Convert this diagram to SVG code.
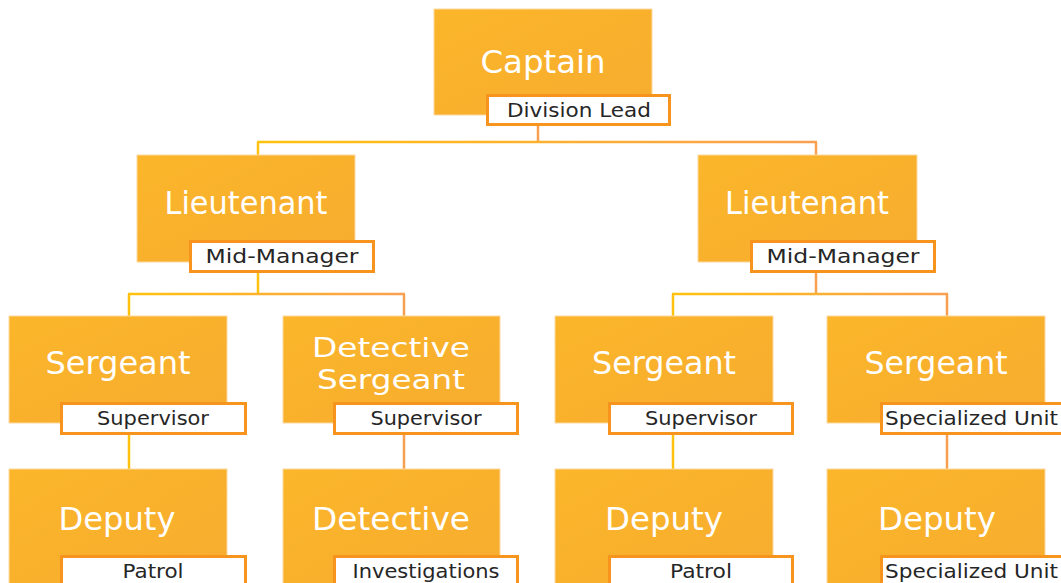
<svg xmlns="http://www.w3.org/2000/svg" width="1061" height="583" viewBox="0 0 1061 583">
<defs>
<linearGradient id="boxg" x1="0" y1="0" x2="1" y2="1">
<stop offset="0" stop-color="#FBB62A"/>
<stop offset="1" stop-color="#F7AC2F"/>
</linearGradient>
<linearGradient id="h1" gradientUnits="userSpaceOnUse" x1="258" y1="0" x2="816" y2="0">
<stop offset="0" stop-color="#FFC20E"/>
<stop offset="1" stop-color="#F8A050"/>
</linearGradient>
<linearGradient id="h2" gradientUnits="userSpaceOnUse" x1="129" y1="0" x2="404" y2="0">
<stop offset="0" stop-color="#FFC20E"/>
<stop offset="1" stop-color="#F8A050"/>
</linearGradient>
<linearGradient id="h3" gradientUnits="userSpaceOnUse" x1="673" y1="0" x2="947" y2="0">
<stop offset="0" stop-color="#FFC20E"/>
<stop offset="1" stop-color="#F8A050"/>
</linearGradient>
</defs>
<style>
.box{fill:url(#boxg);stroke:#FCD9A0;stroke-width:1}
.lbl{fill:#FFFFFF;stroke:#F7941E;stroke-width:3}
.t{font-family:"DejaVu Sans","Liberation Sans",sans-serif;font-size:32px;fill:#FFFFFF;text-anchor:middle}
.t2{font-family:"DejaVu Sans","Liberation Sans",sans-serif;font-size:27px;fill:#FFFFFF;text-anchor:middle}
.s{font-family:"DejaVu Sans","Liberation Sans",sans-serif;font-size:20px;fill:#262626;text-anchor:middle}
.y{stroke:#FFC20E;stroke-width:2.5;fill:none}
.o{stroke:#F8A050;stroke-width:2.5;fill:none}
</style>
<rect width="1061" height="583" fill="#FFFFFF"/>
<g id="connectors">
<line class="o" x1="538" y1="126" x2="538" y2="142"/>
<line x1="257" y1="142" x2="817" y2="142" stroke="url(#h1)" stroke-width="2.5"/>
<line class="y" x1="258" y1="142" x2="258" y2="155"/>
<line class="o" x1="816" y1="142" x2="816" y2="155"/>
<line class="y" x1="258" y1="273" x2="258" y2="294"/>
<line class="o" x1="816" y1="273" x2="816" y2="294"/>
<line x1="128" y1="294" x2="405" y2="294" stroke="url(#h2)" stroke-width="2.5"/>
<line x1="672" y1="294" x2="948" y2="294" stroke="url(#h3)" stroke-width="2.5"/>
<line class="y" x1="129" y1="294" x2="129" y2="316"/>
<line class="o" x1="404" y1="294" x2="404" y2="316"/>
<line class="y" x1="673" y1="294" x2="673" y2="316"/>
<line class="o" x1="947" y1="294" x2="947" y2="316"/>
<line class="y" x1="129" y1="435" x2="129" y2="469"/>
<line class="o" x1="404" y1="435" x2="404" y2="469"/>
<line class="y" x1="673" y1="435" x2="673" y2="469"/>
<line class="o" x1="947" y1="435" x2="947" y2="469"/>
</g>
<g id="captain">
<rect class="box" x="434" y="9" width="218" height="106"/>
<text class="t" x="543" y="73" textLength="125" lengthAdjust="spacingAndGlyphs">Captain</text>
<rect class="lbl" x="487.5" y="95.5" width="182" height="29"/>
<text class="s" x="579" y="117" textLength="144" lengthAdjust="spacingAndGlyphs">Division Lead</text>
</g>
<g id="lieutenant-left">
<rect class="box" x="137" y="155" width="218" height="107"/>
<text class="t" x="246" y="214" textLength="163" lengthAdjust="spacingAndGlyphs">Lieutenant</text>
<rect class="lbl" x="190.5" y="241.5" width="183" height="30"/>
<text class="s" x="282" y="263" textLength="153" lengthAdjust="spacingAndGlyphs">Mid-Manager</text>
</g>
<g id="lieutenant-right">
<rect class="box" x="698" y="155" width="219" height="107"/>
<text class="t" x="807" y="214" textLength="164" lengthAdjust="spacingAndGlyphs">Lieutenant</text>
<rect class="lbl" x="751.5" y="241.5" width="183" height="30"/>
<text class="s" x="843" y="263" textLength="153" lengthAdjust="spacingAndGlyphs">Mid-Manager</text>
</g>
<g id="sergeant-1">
<rect class="box" x="9" y="316" width="218" height="107"/>
<text class="t" x="118" y="374" textLength="145" lengthAdjust="spacingAndGlyphs">Sergeant</text>
<rect class="lbl" x="61.5" y="403.5" width="184" height="30"/>
<text class="s" x="153" y="425" textLength="112" lengthAdjust="spacingAndGlyphs">Supervisor</text>
</g>
<g id="detective-sergeant">
<rect class="box" x="283" y="316" width="217" height="107"/>
<text class="t2" x="391" y="357" textLength="158" lengthAdjust="spacingAndGlyphs">Detective</text>
<text class="t2" x="391" y="389" textLength="148" lengthAdjust="spacingAndGlyphs">Sergeant</text>
<rect class="lbl" x="334.5" y="403.5" width="183" height="30"/>
<text class="s" x="426" y="425" textLength="111" lengthAdjust="spacingAndGlyphs">Supervisor</text>
</g>
<g id="sergeant-2">
<rect class="box" x="555" y="316" width="218" height="107"/>
<text class="t" x="664" y="374" textLength="144" lengthAdjust="spacingAndGlyphs">Sergeant</text>
<rect class="lbl" x="609.5" y="403.5" width="183" height="30"/>
<text class="s" x="701" y="425" textLength="112" lengthAdjust="spacingAndGlyphs">Supervisor</text>
</g>
<g id="sergeant-3">
<rect class="box" x="827" y="316" width="218" height="107"/>
<text class="t" x="936" y="374" textLength="143" lengthAdjust="spacingAndGlyphs">Sergeant</text>
<rect class="lbl" x="881.5" y="403.5" width="190" height="30"/>
<text class="s" x="885" y="425" style="text-anchor:start" textLength="173" lengthAdjust="spacingAndGlyphs">Specialized Unit</text>
</g>
<g id="deputy-1">
<rect class="box" x="9" y="469" width="218" height="120"/>
<text class="t" x="117" y="530" textLength="117" lengthAdjust="spacingAndGlyphs">Deputy</text>
<rect class="lbl" x="61.5" y="556.5" width="184" height="40"/>
<text class="s" x="153" y="578" textLength="61" lengthAdjust="spacingAndGlyphs">Patrol</text>
</g>
<g id="detective">
<rect class="box" x="283" y="469" width="217" height="120"/>
<text class="t" x="391" y="530" textLength="158" lengthAdjust="spacingAndGlyphs">Detective</text>
<rect class="lbl" x="334.5" y="556.5" width="183" height="40"/>
<text class="s" x="426" y="578" textLength="147" lengthAdjust="spacingAndGlyphs">Investigations</text>
</g>
<g id="deputy-2">
<rect class="box" x="555" y="469" width="218" height="120"/>
<text class="t" x="664" y="530" textLength="118" lengthAdjust="spacingAndGlyphs">Deputy</text>
<rect class="lbl" x="609.5" y="556.5" width="183" height="40"/>
<text class="s" x="701" y="578" textLength="62" lengthAdjust="spacingAndGlyphs">Patrol</text>
</g>
<g id="deputy-3">
<rect class="box" x="827" y="469" width="218" height="120"/>
<text class="t" x="937" y="530" textLength="118" lengthAdjust="spacingAndGlyphs">Deputy</text>
<rect class="lbl" x="881.5" y="556.5" width="190" height="40"/>
<text class="s" x="885" y="578" style="text-anchor:start" textLength="173" lengthAdjust="spacingAndGlyphs">Specialized Unit</text>
</g>
</svg>
